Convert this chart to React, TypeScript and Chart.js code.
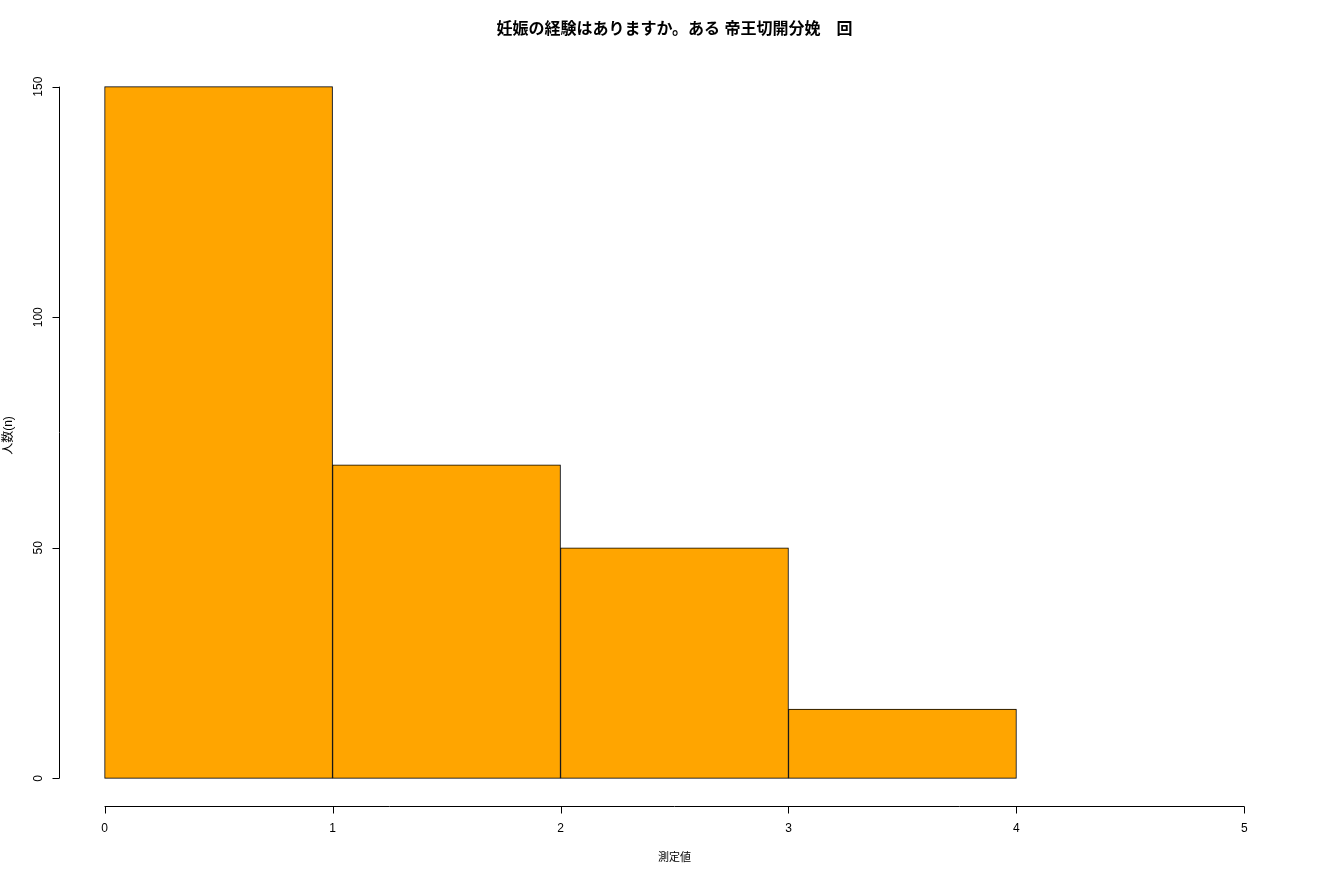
import React, { useEffect, useRef } from "react";
import { Chart, registerables } from "chart.js";

Chart.register(...registerables);

const binCenters = [0.5, 1.5, 2.5, 3.5];
const counts = [150, 68, 50, 15];
const xTicks = [0, 1, 2, 3, 4, 5];
const yTicks = [0, 50, 100, 150];
const titleText = "妊娠の経験はありますか。ある 帝王切開分娩　回";
const xTitle = "測定値";
const yTitle = "人数(n)";

const FONT = "'Liberation Sans', 'Noto Sans CJK JP', sans-serif";

const rAxesPlugin = {
  id: "rAxes",
  afterDraw(chart: any) {
    const ctx = chart.ctx as CanvasRenderingContext2D;
    const area = chart.chartArea;
    const xs = chart.scales.x;
    const ys = chart.scales.y;
    ctx.save();
    ctx.strokeStyle = "#000";
    ctx.fillStyle = "#000";
    ctx.lineWidth = 1;
    // x axis
    const axY = Math.round(area.bottom) + 0.5;
    const x0 = xs.getPixelForValue(xTicks[0]);
    const x1 = xs.getPixelForValue(xTicks[xTicks.length - 1]);
    ctx.beginPath();
    ctx.moveTo(x0, axY);
    ctx.lineTo(x1, axY);
    for (const t of xTicks) {
      const px = Math.round(xs.getPixelForValue(t)) + 0.5;
      ctx.moveTo(px, axY);
      ctx.lineTo(px, axY + 7);
    }
    ctx.stroke();
    ctx.font = `12px ${FONT}`;
    ctx.textAlign = "center";
    ctx.textBaseline = "middle";
    for (const t of xTicks) {
      ctx.fillText(String(t), xs.getPixelForValue(t), axY + 22);
    }
    // y axis
    const axX = Math.round(area.left) + 0.5;
    const y0 = ys.getPixelForValue(yTicks[0]);
    const y1 = ys.getPixelForValue(yTicks[yTicks.length - 1]);
    ctx.beginPath();
    ctx.moveTo(axX, y0);
    ctx.lineTo(axX, y1);
    for (const t of yTicks) {
      const py = Math.round(ys.getPixelForValue(t)) + 0.5;
      ctx.moveTo(axX, py);
      ctx.lineTo(axX - 7, py);
    }
    ctx.stroke();
    for (const t of yTicks) {
      ctx.save();
      ctx.translate(axX - 21, ys.getPixelForValue(t));
      ctx.rotate(-Math.PI / 2);
      ctx.fillText(String(t), 0, 0);
      ctx.restore();
    }
    // axis titles
    const cx = (area.left + area.right) / 2;
    const cy = (area.top + area.bottom) / 2;
    ctx.font = `11px ${FONT}`;
    ctx.fillText(xTitle, cx, axY + 51);
    ctx.save();
    ctx.translate(9, cy + 3);
    ctx.rotate(-Math.PI / 2);
    ctx.font = `12px ${FONT}`;
    ctx.fillText(yTitle, 0, 0);
    ctx.restore();
    // title
    ctx.font = `bold 16px ${FONT}`;
    ctx.fillText(titleText, cx, 30);
    ctx.restore();
  },
};

export default function App() {
  const ref = useRef<HTMLCanvasElement | null>(null);
  useEffect(() => {
    if (!ref.current) return;
    const chart = new Chart(ref.current, {
      type: "bar",
      data: {
        datasets: [
          {
            data: binCenters.map((c, i) => ({ x: c, y: counts[i] })),
            backgroundColor: "#FFA500",
            borderColor: "#000000",
            borderWidth: 1,
            borderSkipped: false,
            barPercentage: 1,
            categoryPercentage: 1,
          },
        ],
      },
      options: {
        animation: false,
        responsive: false,
        devicePixelRatio: 1,
        layout: { padding: { left: 59, top: 59, right: 30, bottom: 74 } },
        plugins: {
          legend: { display: false },
          title: { display: false },
          tooltip: { enabled: false },
        },
        scales: {
          x: {
            type: "linear",
            min: -0.2,
            max: 5.2,
            display: false,
            offset: false,
            afterBuildTicks: (scale: any) => {
              scale.ticks = xTicks.map((v) => ({ value: v }));
            },
          },
          y: { type: "linear", min: -6, max: 156, display: false },
        },
      },
      plugins: [rAxesPlugin],
    });
    return () => chart.destroy();
  }, []);
  return (
    <div style={{ position: "fixed", left: 0, top: 0, width: 1320, height: 880, background: "#fff" }}>
      <canvas ref={ref} width={1320} height={880} style={{ width: 1320, height: 880 }} />
    </div>
  );
}
